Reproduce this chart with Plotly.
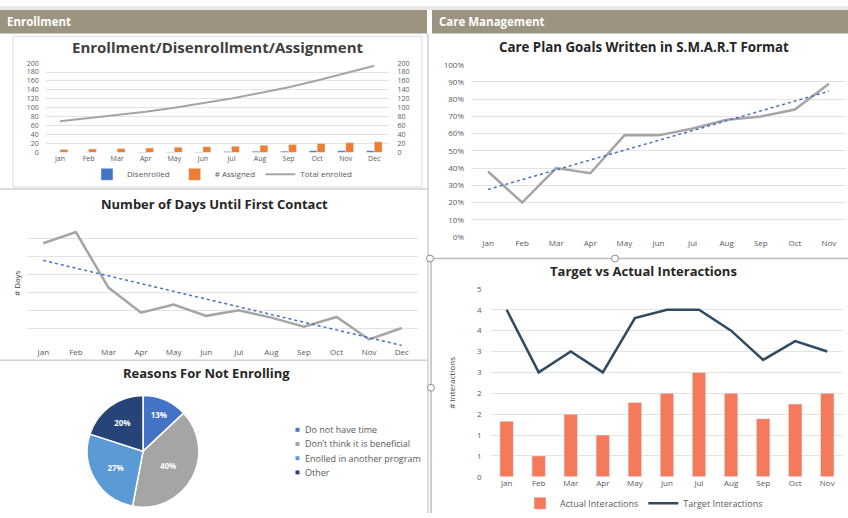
import plotly.graph_objects as go
import numpy as np

W, H = 848, 518

months12 = ["Jan", "Feb", "Mar", "Apr", "May", "Jun", "Jul", "Aug", "Sep", "Oct", "Nov", "Dec"]
months11 = months12[:11]

# Enrollment / Disenrollment / Assignment
disenrolled = [0, 0, 0, 1, 1, 1, 2, 3, 3, 4, 4, 4]
assigned = [7, 8, 9, 10, 12, 13, 14, 16, 18, 20, 22, 24]
total_enrolled = [70, 77, 83, 91, 100, 110, 121, 133, 146, 161, 177, 194]
enroll_ticks = [0, 20, 40, 60, 80, 100, 120, 140, 160, 180, 200]

# Number of days until first contact
days_first_contact = [5.74, 6.36, 3.26, 1.86, 2.31, 1.68, 1.99, 1.58, 1.07, 1.62, 0.36, 1.0]

# Reasons for not enrolling
reasons = ["Do not have time", "Don\u2019t think it is beneficial", "Enolled in another program", "Other"]
reason_pct = [13, 40, 27, 20]
reason_colors = ["#4472C4", "#A5A5A5", "#5B9BD5", "#264478"]

# Care plan goals (S.M.A.R.T)
smart_pct = [0.38, 0.20, 0.40, 0.37, 0.59, 0.59, 0.63, 0.68, 0.70, 0.74, 0.89]
smart_ticks = [i / 10 for i in range(11)]

# Target vs actual interactions
actual_inter = [1.33, 0.5, 1.5, 1.0, 1.78, 2.0, 2.5, 2.0, 1.39, 1.74, 2.0]
target_inter = [4.0, 2.5, 3.0, 2.5, 3.8, 4.0, 4.0, 3.5, 2.8, 3.25, 3.0]
inter_tickvals = [i / 2 for i in range(10)]
inter_ticktext = ["0", "1", "1", "2", "2", "3", "3", "4", "4", "5"]


def px(x):
    return x / W


def py(y):
    return 1 - y / H


def trend(vals):
    x = np.arange(len(vals))
    k, b = np.polyfit(x, vals, 1)
    return (k * x + b).tolist()


FONT = "Open Sans"
TICKC = "#595959"
GRID = "#E3E3E3"
fig = go.Figure()

# ---- Enrollment chart
fig.add_trace(go.Bar(x=months12, y=disenrolled, name="Disenrolled", marker_color="#4472C4",
                     xaxis="x", yaxis="y", legend="legend"))
fig.add_trace(go.Bar(x=months12, y=assigned, name="# Assigned", marker_color="#ED7D31",
                     xaxis="x", yaxis="y", legend="legend"))
fig.add_trace(go.Scatter(x=months12, y=total_enrolled, name="Total enrolled", mode="lines",
                         line=dict(color="#A5A5A5", width=2), xaxis="x", yaxis="y2", legend="legend"))

# ---- Days chart
fig.add_trace(go.Scatter(x=months12, y=days_first_contact, mode="lines", showlegend=False,
                         line=dict(color="#A5A5A5", width=2.5), xaxis="x3", yaxis="y3"))
fig.add_trace(go.Scatter(x=months12, y=trend(days_first_contact), mode="lines", showlegend=False,
                         line=dict(color="#4472C4", width=1.5, dash="dot"), xaxis="x3", yaxis="y3"))

# ---- Pie
fig.add_trace(go.Pie(labels=reasons, values=reason_pct, sort=False, direction="clockwise",
                     rotation=0, marker=dict(colors=reason_colors, line=dict(color="white", width=1.5)),
                     texttemplate="%{percent:.0%}", textposition="inside", insidetextorientation="horizontal",
                     textfont=dict(color="white", size=8, family=FONT, weight="bold"),
                     domain=dict(x=[px(86), px(200)], y=[py(512), py(398)]),
                     showlegend=False, hoverinfo="label+percent"))

# ---- Care plan chart
fig.add_trace(go.Scatter(x=months11, y=smart_pct, mode="lines", showlegend=False,
                         line=dict(color="#A5A5A5", width=2.5), xaxis="x4", yaxis="y4"))
fig.add_trace(go.Scatter(x=months11, y=trend(smart_pct), mode="lines", showlegend=False,
                         line=dict(color="#4472C4", width=1.5, dash="dot"), xaxis="x4", yaxis="y4"))

# ---- Interactions chart
fig.add_trace(go.Bar(x=months11, y=actual_inter, name="Actual Interactions", marker_color="#F47A5C",
                     width=0.42, xaxis="x5", yaxis="y5", legend="legend3"))
fig.add_trace(go.Scatter(x=months11, y=target_inter, name="Target Interactions", mode="lines",
                         line=dict(color="#2F4B63", width=2.5), xaxis="x5", yaxis="y5", legend="legend3"))

tickfont = dict(family=FONT, size=8, color=TICKC)
smalltick = dict(family=FONT, size=7, color=TICKC)


def xcat(dom, n, anchor, tf=tickfont):
    return dict(domain=dom, anchor=anchor, type="category", range=[-0.5, n - 0.5],
                showgrid=False, showline=False, zeroline=False, ticks="", tickfont=tf,
                fixedrange=True)


def ylin(dom, anchor, rng, **kw):
    d = dict(domain=dom, anchor=anchor, range=rng, showgrid=True, gridcolor=GRID, gridwidth=1,
             zeroline=False, showline=False, ticks="", tickfont=tickfont, fixedrange=True)
    d.update(kw)
    return d


layout = dict(
    width=W, height=H, margin=dict(l=0, r=0, t=0, b=0),
    paper_bgcolor="white", plot_bgcolor="rgba(0,0,0,0)",
    barmode="group", bargap=0.45, bargroupgap=0.0,
    font=dict(family=FONT, color=TICKC),
    xaxis=xcat([px(45.7), px(388.6)], 12, "y", smalltick),
    yaxis=ylin([py(149.7), py(58.3)], "x", [0, 200], tickvals=enroll_ticks, tickfont=smalltick,
               ticklabelstandoff=6),
    yaxis2=dict(overlaying="y", side="right", anchor="x", range=[0, 200], tickvals=enroll_ticks,
                showgrid=False, zeroline=False, showline=False, ticks="", tickfont=smalltick,
                ticklabelstandoff=8),
    xaxis3=xcat([px(27), px(418)], 12, "y3"),
    yaxis3=ylin([py(347.3), py(219.3)], "x3", [0, 7], dtick=1, showticklabels=False,
                title=dict(text="# Days", font=dict(family=FONT, size=8, color="#404040"), standoff=4)),
    xaxis4=xcat([px(471), px(846)], 11, "y4"),
    yaxis4=ylin([py(236), py(60)], "x4", [0, 1], tickvals=smart_ticks, tickformat=".0%",
                ticklabelstandoff=6),
    xaxis5=xcat([px(490.6), px(843.3)], 11, "y5"),
    yaxis5=ylin([py(481), py(289)], "x5", [0, 4.5], tickvals=inter_tickvals, ticktext=inter_ticktext,
                ticklabelstandoff=8,
                title=dict(text="# Interactions", font=dict(family=FONT, size=8, color="#404040"), standoff=20)),
    legend=dict(orientation="h", x=px(222), xanchor="center", y=py(172), yanchor="middle",
                font=dict(family=FONT, size=8, color=TICKC), bgcolor="rgba(0,0,0,0)",
                traceorder="normal", itemwidth=30),
    legend3=dict(orientation="h", x=px(644), xanchor="center", y=py(508), yanchor="middle",
                 font=dict(family=FONT, size=9, color=TICKC), bgcolor="rgba(0,0,0,0)",
                 traceorder="normal", itemwidth=30),
)
fig.update_layout(**layout)

shapes = []
# top strip
shapes.append(dict(type="rect", xref="paper", yref="paper", x0=0, x1=1, y0=py(4), y1=1,
                   fillcolor="#E9E9E9", line_width=0, layer="below"))
# headers
shapes.append(dict(type="rect", xref="paper", yref="paper", x0=0, x1=px(427), y0=py(28), y1=py(4),
                   fillcolor="#9C9480", line_width=0, layer="below"))
shapes.append(dict(type="rect", xref="paper", yref="paper", x0=px(432), x1=1, y0=py(28), y1=py(4),
                   fillcolor="#9C9480", line_width=0, layer="below"))
# enrollment chart box
shapes.append(dict(type="rect", xref="paper", yref="paper", x0=px(13), x1=px(422), y0=py(185), y1=py(31),
                   fillcolor="rgba(0,0,0,0)", line=dict(color="#DADADA", width=1), layer="below"))
# separators
for y in (187, 362):
    shapes.append(dict(type="line", xref="paper", yref="paper", x0=0, x1=px(428), y0=py(y), y1=py(y),
                       line=dict(color="#D0D0D0", width=1.5), layer="below"))
shapes.append(dict(type="line", xref="paper", yref="paper", x0=px(428), x1=px(428), y0=0, y1=py(28),
                   line=dict(color="#D0D0D0", width=1.5), layer="below"))
shapes.append(dict(type="line", xref="paper", yref="paper", x0=px(430), x1=1, y0=py(258), y1=py(258),
                   line=dict(color="#BDBDBD", width=1.5), layer="below"))
shapes.append(dict(type="line", xref="paper", yref="paper", x0=px(431), x1=px(431), y0=0, y1=py(258),
                   line=dict(color="#BDBDBD", width=1.5), layer="below"))
# selection handles
for (cx, cy) in [(430, 258), (615, 258), (431, 390)]:
    shapes.append(dict(type="circle", xref="paper", yref="paper", x0=px(cx - 3.5), x1=px(cx + 3.5),
                       y0=py(cy + 3.5), y1=py(cy - 3.5), fillcolor="white",
                       line=dict(color="#8C8C8C", width=1)))

title_font = dict(family=FONT, size=13, color="#262626", weight="bold")
annotations = [
    dict(text="Enrollment", x=px(5), y=py(16), xanchor="left", yanchor="middle",
         font=dict(family=FONT, size=11.5, color="white", weight="bold")),
    dict(text="Care Management", x=px(437), y=py(16), xanchor="left", yanchor="middle",
         font=dict(family=FONT, size=11.5, color="white", weight="bold")),
    dict(text="Enrollment/Disenrollment/Assignment", x=px(218), y=py(42), xanchor="center",
         yanchor="middle", font=dict(family=FONT, size=15, color="#404040", weight="bold")),
    dict(text="Number of Days Until First Contact", x=px(214), y=py(202), xanchor="center",
         yanchor="middle", font=title_font),
    dict(text="Reasons For Not Enrolling", x=px(206), y=py(375), xanchor="center",
         yanchor="middle", font=title_font),
    dict(text="Care Plan Goals Written in S.M.A.R.T Format", x=px(644), y=py(42), xanchor="center",
         yanchor="middle", font=dict(family=FONT, size=13.3, color="#262626", weight="bold")),
    dict(text="Target vs Actual Interactions", x=px(643), y=py(271), xanchor="center",
         yanchor="middle", font=title_font),
]

# pie legend (small square keys + labels)
leg_y = [433, 447.5, 462, 476.5]
for lab, col, yy in zip(reasons, reason_colors, leg_y):
    shapes.append(dict(type="rect", xref="paper", yref="paper", x0=px(295.5), x1=px(299.5),
                       y0=py(yy + 2), y1=py(yy - 2), fillcolor=col, line_width=0))
    annotations.append(dict(text=lab, x=px(303), y=py(yy), xanchor="left", yanchor="middle",
                            font=dict(family=FONT, size=9, color=TICKC)))

for a in annotations:
    a.update(xref="paper", yref="paper", showarrow=False)
fig.update_layout(shapes=shapes, annotations=annotations)

fig.write_html("out.html")
